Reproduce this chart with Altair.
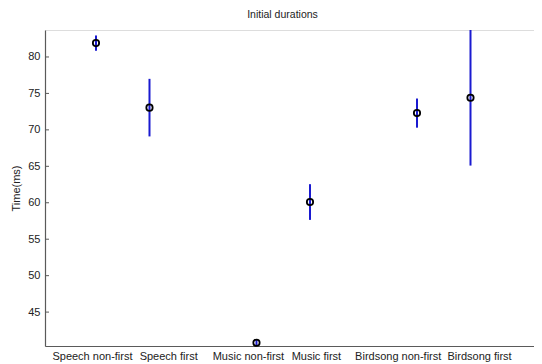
import altair as alt
import pandas as pd

# ---- data ----
categories = ["Speech non-first", "Speech first", "Music non-first",
              "Music first", "Birdsong non-first", "Birdsong first"]
positions = [1, 2, 4, 5, 7, 8]
means = [81.9, 73.05, 40.8, 60.1, 72.3, 74.4]
errors = [1.05, 3.95, 0.45, 2.45, 2.0, 9.3]
label_positions = [0.925, 2.35, 3.84, 5.11, 6.64, 8.16]
y_ticks = [45, 50, 55, 60, 65, 70, 75, 80]
x_limits = [0.047, 9.187]

df = pd.DataFrame({
    "category": categories,
    "pos": positions,
    "mean": means,
    "lower": [m - e for m, e in zip(means, errors)],
    "upper": [m + e for m, e in zip(means, errors)],
})
y_domain = [float(df["lower"].min()), float(df["upper"].max())]

# label expression mapping tick positions to category names
mids = [(a + b) / 2 for a, b in zip(label_positions[:-1], label_positions[1:])]
expr = "'" + categories[-1] + "'"
for m, c in reversed(list(zip(mids, categories[:-1]))):
    expr = f"datum.value < {m} ? '{c}' : ({expr})"

FONT = "Liberation Sans"
TXT = "#222222"
AX = "#5a5a5a"

xscale = alt.Scale(domain=x_limits, nice=False, zero=False)
yscale = alt.Scale(domain=y_domain, nice=False, zero=False)

bars = alt.Chart(df).mark_rule(color="#1a1ad0", strokeWidth=2).encode(
    x=alt.X("pos:Q", scale=xscale,
            axis=alt.Axis(values=label_positions, labelExpr=expr, ticks=False,
                          grid=False, title=None, labelPadding=4, labelFontSize=11,
                          labelFont=FONT, labelColor=TXT, domainColor=AX,
                          domainWidth=1.2, labelOverlap=False, labelFlush=False)),
    y=alt.Y("lower:Q", scale=yscale,
            axis=alt.Axis(values=y_ticks, ticks=False, grid=False, title="Time(ms)",
                          labelPadding=5, labelFontSize=11, labelFont=FONT,
                          labelColor=TXT, domainColor=AX, domainWidth=1.2,
                          titleFont=FONT, titleFontSize=11, titleFontWeight="normal",
                          titleColor=TXT, titlePadding=6, labelOverlap=False,
                          labelFlush=False)),
    y2="upper:Q",
)

points = alt.Chart(df).mark_point(shape="circle", filled=False, color="black",
                                   size=40, strokeWidth=1.8, opacity=1).encode(
    x=alt.X("pos:Q", scale=xscale),
    y=alt.Y("mean:Q", scale=yscale),
)

tick_df = pd.DataFrame({"t": y_ticks})
ticks = alt.Chart(tick_df).mark_rule(color=AX, strokeWidth=1).encode(
    x=alt.value(0), x2=alt.value(4), y=alt.Y("t:Q", scale=yscale),
)

chart = alt.layer(bars, ticks, points).properties(
    width=489, height=316, autosize="none",
    padding={"left": 37, "top": 22, "right": 0, "bottom": 18},
    title=alt.TitleParams("Initial durations", font=FONT, fontSize=10.5,
                          fontWeight="normal", color=TXT, dx=-7, offset=9),
).configure_view(stroke=None).configure(background="white")

chart.save("out.html", embed_options={"renderer": "svg", "actions": False})
